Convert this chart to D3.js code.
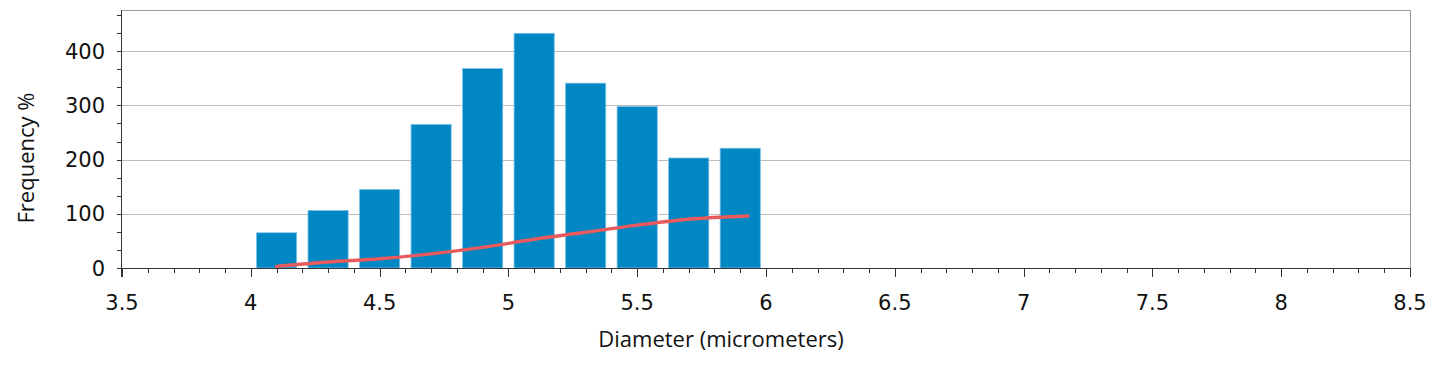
<!DOCTYPE html>
<html>
<head>
<meta charset="utf-8">
<script src="https://cdn.jsdelivr.net/npm/d3@7"></script>
<style>
  body { margin: 0; background: #fff; }
  svg { display: block; }
  text { font-family: "DejaVu Sans", sans-serif; fill: #111; }
</style>
</head>
<body>
<div id="chart"></div>
<script>
// Histogram bins (lower edge, micrometers) and their frequencies.
const binStarts = [4.0, 4.2, 4.4, 4.6, 4.8, 5.0, 5.2, 5.4, 5.6, 5.8];
const binWidth = 0.2;
const frequencies = [65, 106, 145, 265, 368, 433, 341, 298, 203, 221];

// Cumulative curve, read at bin centres.
const curveX = [4.1, 4.3, 4.5, 4.7, 4.9, 5.1, 5.3, 5.5, 5.7, 5.93];
const curveY = [3, 11, 17, 26, 38, 53, 66, 79, 90, 96];

const yTicks = [0, 100, 200, 300, 400];
const xTicks = [3.5, 4, 4.5, 5, 5.5, 6, 6.5, 7, 7.5, 8, 8.5];

const width = 1429;
const height = 365;
const plotLeft = 122, plotRight = 1410, plotTop = 10, plotBottom = 268;

const barColor = '#0287c5';
const barEdge = '#7cc4e6';
const lineColor = '#e85a5c';
const gridColor = '#bdbdbd';
const axisColor = '#333';

const svg = d3.select('#chart')
  .append('svg')
  .attr('width', width)
  .attr('height', height);

const x = d3.scaleLinear().domain([3.5, 8.5]).range([plotLeft, plotRight]);
const y = d3.scaleLinear().domain([0, 476]).range([plotBottom, plotTop]);

// gridlines
svg.append('g')
  .selectAll('line')
  .data(yTicks.slice(1))
  .join('line')
  .attr('x1', plotLeft).attr('x2', plotRight)
  .attr('y1', d => Math.round(y(d)) + 0.5)
  .attr('y2', d => Math.round(y(d)) + 0.5)
  .attr('stroke', gridColor)
  .attr('stroke-width', 1);

// top + right frame
svg.append('path')
  .attr('d', `M${plotLeft},${plotTop + 0.5}H${plotRight + 0.5}V${plotBottom}`)
  .attr('fill', 'none')
  .attr('stroke', '#999');

// bars
const gap = 0.022;
svg.append('g')
  .selectAll('rect')
  .data(binStarts)
  .join('rect')
  .attr('x', d => x(d + gap))
  .attr('width', x(3.5 + binWidth - 2 * gap) - x(3.5))
  .attr('y', (d, i) => y(frequencies[i]))
  .attr('height', (d, i) => y(0) - y(frequencies[i]))
  .attr('fill', barColor)
  .attr('stroke', barEdge)
  .attr('stroke-width', 0.8);

// cumulative line
const line = d3.line()
  .x((d, i) => x(curveX[i]))
  .y(d => y(d))
  .curve(d3.curveMonotoneX);

svg.append('path')
  .datum(curveY)
  .attr('d', line)
  .attr('fill', 'none')
  .attr('stroke', lineColor)
  .attr('stroke-width', 3.4)
  .attr('stroke-linecap', 'round');

// x axis
const xMinor = d3.range(35, 86).map(v => v / 10);
svg.append('g')
  .selectAll('line')
  .data(xMinor)
  .join('line')
  .attr('x1', d => Math.round(x(d)) + 0.5)
  .attr('x2', d => Math.round(x(d)) + 0.5)
  .attr('y1', plotBottom)
  .attr('y2', d => (Math.abs(d * 2 - Math.round(d * 2)) < 1e-6 ? plotBottom + 9 : plotBottom + 5))
  .attr('stroke', axisColor);

svg.append('line')
  .attr('x1', plotLeft).attr('x2', plotRight + 1)
  .attr('y1', plotBottom + 0.5).attr('y2', plotBottom + 0.5)
  .attr('stroke', axisColor);

svg.append('g')
  .selectAll('text')
  .data(xTicks)
  .join('text')
  .attr('x', d => x(d))
  .attr('y', 310)
  .attr('text-anchor', 'middle')
  .style('font-size', '21px')
  .text(d => d);

// y axis
const yMinor = d3.range(0, 15).map(i => i * 100 / 3);
svg.append('g')
  .selectAll('line')
  .data(yMinor)
  .join('line')
  .attr('x1', plotLeft - 5).attr('x2', plotLeft)
  .attr('y1', d => Math.round(y(d)) + 0.5)
  .attr('y2', d => Math.round(y(d)) + 0.5)
  .attr('stroke', axisColor);

svg.append('line')
  .attr('x1', plotLeft - 0.5).attr('x2', plotLeft - 0.5)
  .attr('y1', plotTop).attr('y2', plotBottom + 9)
  .attr('stroke', axisColor);

svg.append('g')
  .selectAll('text')
  .data(yTicks)
  .join('text')
  .attr('x', 105)
  .attr('y', d => y(d) + 7.5)
  .attr('text-anchor', 'end')
  .style('font-size', '21px')
  .text(d => d);

// axis titles
svg.append('text')
  .attr('x', 721)
  .attr('y', 347)
  .attr('text-anchor', 'middle')
  .style('font-family', '"Open Sans", sans-serif')
  .style('font-size', '22px')
  .text('Diameter (micrometers)');

svg.append('text')
  .attr('transform', 'translate(34,158) rotate(-90)')
  .attr('text-anchor', 'middle')
  .style('font-family', '"Open Sans", sans-serif')
  .style('font-size', '22px')
  .text('Frequency %');
</script>
</body>
</html>
